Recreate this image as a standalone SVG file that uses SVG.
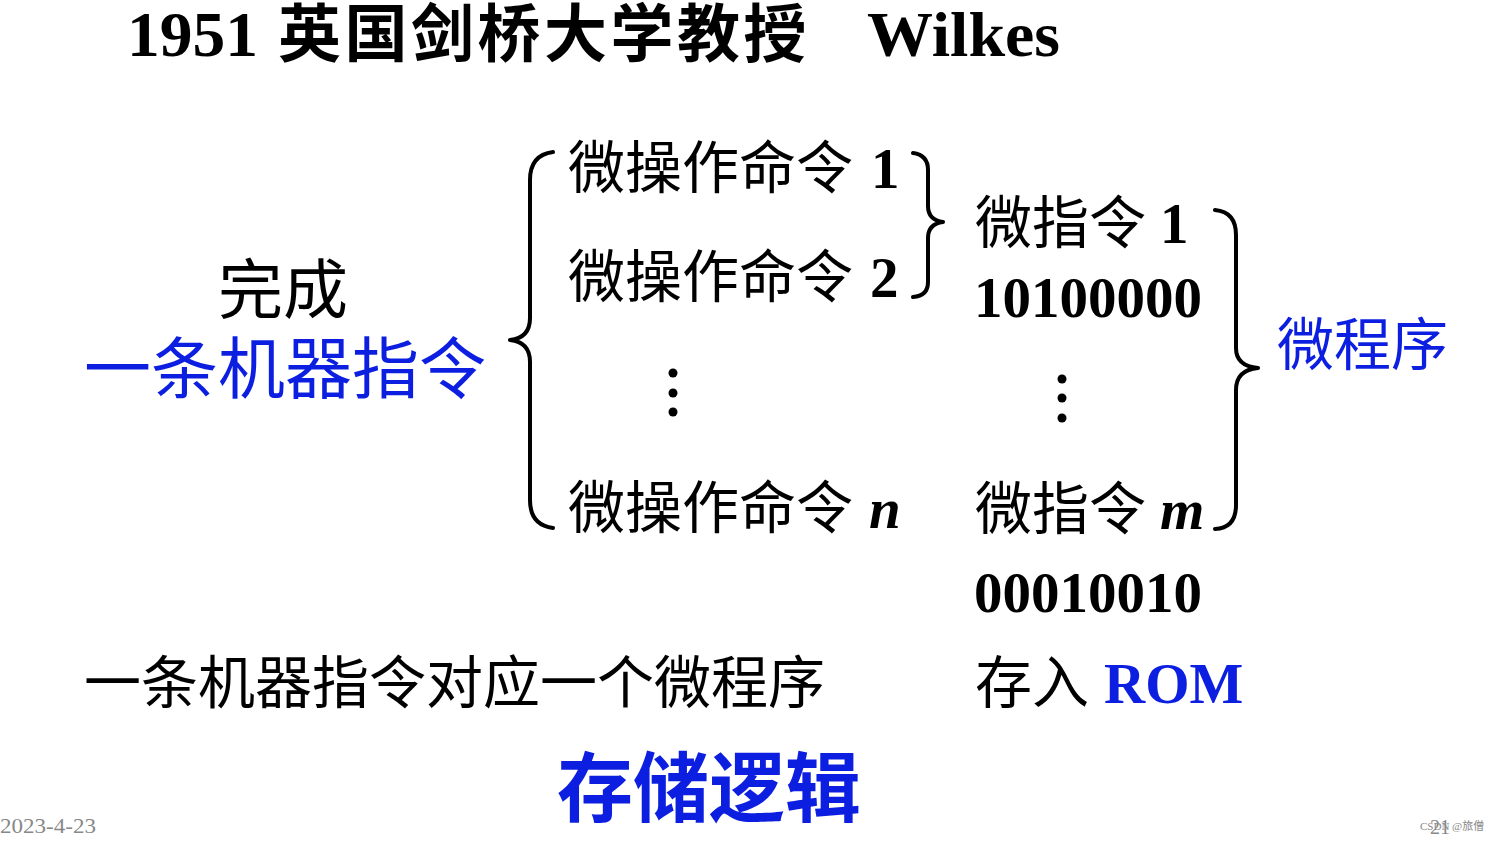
<svg xmlns="http://www.w3.org/2000/svg" width="1503" height="841" viewBox="0 0 1503 841">
<style>
.cj{font-family:"Liberation Serif","Noto Sans CJK SC",serif;fill:#000}
.lat{font-family:"Liberation Serif",serif;font-weight:700}
.blue{fill:#0c1ee0}
.brace{fill:none;stroke:#000;stroke-width:4;stroke-linecap:round;stroke-linejoin:round}
.dot{fill:#000}
.gray{font-family:"Liberation Serif","Noto Sans CJK SC",serif;fill:#888}
</style>
<rect width="1503" height="841" fill="#fff"/>
<g id="title">
<text x="127" y="56" class="lat" font-size="63" textLength="131" lengthAdjust="spacingAndGlyphs">1951</text>
<text x="278" y="56" class="cj" font-size="63" font-weight="700" letter-spacing="3.5">英国剑桥大学教授</text>
<text x="867" y="56" class="lat" font-size="63" textLength="193" lengthAdjust="spacingAndGlyphs">Wilkes</text>
</g>
<g id="machine-instruction">
<text x="218" y="313" class="cj" font-size="65">完成</text>
<text x="84" y="393" class="cj blue" font-size="67">一条机器指令</text>
</g>
<g id="micro-ops">
<text x="568" y="188" class="cj" font-size="57">微操作命令<tspan x="871" class="lat">1</tspan></text>
<text x="568" y="297" class="cj" font-size="57">微操作命令<tspan x="870" class="lat">2</tspan></text>
<circle class="dot" cx="673" cy="373" r="4.5"/>
<circle class="dot" cx="673" cy="393" r="4.5"/>
<circle class="dot" cx="673" cy="412" r="4.5"/>
<text x="568" y="528" class="cj" font-size="57">微操作命令<tspan x="869" class="lat" font-style="italic">n</tspan></text>
</g>
<g id="micro-instructions">
<text x="975" y="243" class="cj" font-size="57">微指令<tspan x="1160" class="lat">1</tspan></text>
<text x="974" y="317" class="lat" font-size="57">10100000</text>
<circle class="dot" cx="1062" cy="379" r="4.5"/>
<circle class="dot" cx="1062" cy="398" r="4.5"/>
<circle class="dot" cx="1062" cy="418" r="4.5"/>
<text x="975" y="529" class="cj" font-size="57">微指令<tspan x="1160" class="lat" font-style="italic">m</tspan></text>
<text x="974" y="612" class="lat" font-size="57">00010010</text>
</g>
<g id="microprogram">
<text x="1277" y="365" class="cj blue" font-size="57">微程序</text>
</g>
<g id="summary">
<text x="84" y="703" class="cj" font-size="57">一条机器指令对应一个微程序</text>
<text x="975" y="703" class="cj" font-size="57">存入<tspan x="1104" class="lat blue">ROM</tspan></text>
</g>
<g id="storage-logic">
<text x="557" y="816" class="cj blue" font-size="76" font-weight="700">存储逻辑</text>
</g>
<g id="footer">
<text x="0" y="833" class="gray" font-size="21" textLength="96" lengthAdjust="spacingAndGlyphs">2023-4-23</text>
<text x="1420" y="830" class="gray" font-size="11" fill="#aaa">CSDN @旅僧</text>
<text x="1430" y="834" class="gray" font-size="20" fill="#666">21</text>
</g>
<g id="connectors">
<path class="brace" d="M553,152 Q530,155 530,180 L530,318 Q530,338 510,340 Q530,342 530,362 L530,500 Q530,525 553,528"/>
<path class="brace" d="M913,153 Q928,155 928,170 L928,206 Q928,220 943,222 Q928,224 928,238 L928,282 Q928,296 913,297"/>
<path class="brace" d="M1215,210 Q1236,212 1236,235 L1236,348 Q1236,366 1258,368 Q1236,370 1236,390 L1236,505 Q1236,528 1215,529"/>
</g>
</svg>
